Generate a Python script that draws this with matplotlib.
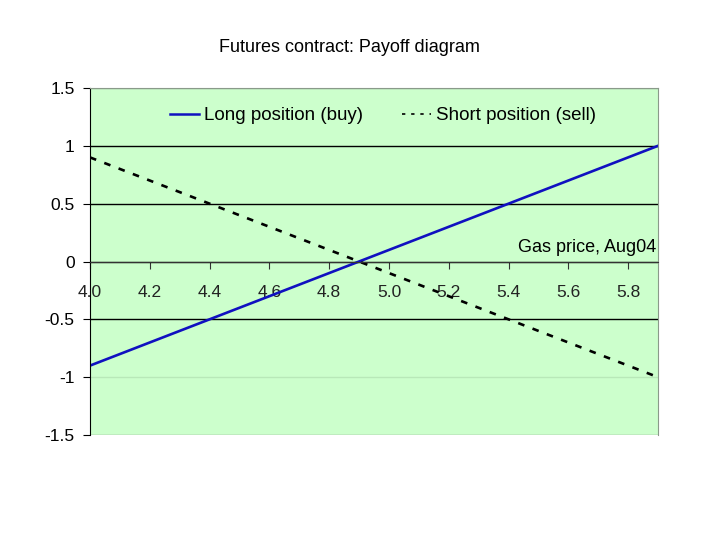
import matplotlib
matplotlib.use("Agg")
import matplotlib.pyplot as plt
from matplotlib.lines import Line2D

# Gas price (Aug04) and payoff of a futures contract bought/sold at 4.9
prices = [4.0, 4.1, 4.2, 4.3, 4.4, 4.5, 4.6, 4.7, 4.8, 4.9,
          5.0, 5.1, 5.2, 5.3, 5.4, 5.5, 5.6, 5.7, 5.8, 5.9]
long_payoff = [-0.9, -0.8, -0.7, -0.6, -0.5, -0.4, -0.3, -0.2, -0.1, 0.0,
               0.1, 0.2, 0.3, 0.4, 0.5, 0.6, 0.7, 0.8, 0.9, 1.0]
short_payoff = [0.9, 0.8, 0.7, 0.6, 0.5, 0.4, 0.3, 0.2, 0.1, 0.0,
                -0.1, -0.2, -0.3, -0.4, -0.5, -0.6, -0.7, -0.8, -0.9, -1.0]
x_ticks = [4.0, 4.2, 4.4, 4.6, 4.8, 5.0, 5.2, 5.4, 5.6, 5.8]
x_labels = ["4.0", "4.2", "4.4", "4.6", "4.8", "5.0", "5.2", "5.4", "5.6", "5.8"]
y_ticks = [-1.5, -1, -0.5, 0, 0.5, 1, 1.5]
y_labels = ["-1.5", "-1", "-0.5", "0", "0.5", "1", "1.5"]

plt.rcParams['font.family'] = ['Liberation Sans', 'DejaVu Sans']

fig = plt.figure(figsize=(7.2, 5.4), dpi=100)
ax = fig.add_axes([90 / 720, 1 - 435 / 540, 568 / 720, 347 / 540])
ax.set_facecolor('#ccffcc')

ax.plot(prices, long_payoff, color='#1010c0', lw=1.9, label='Long position (buy)')
ax.plot(prices, short_payoff, color='black', lw=1.9, linestyle=(0, (2.5, 3.3)),
        label='Short position (sell)')

ax.set_xlim(4.0, 5.9)
ax.set_ylim(-1.5, 1.5)
ax.set_yticks(y_ticks)
ax.set_yticklabels(y_labels)
ax.set_xticks(x_ticks)
ax.set_xticklabels(x_labels)

# horizontal gridlines
ax.grid(axis='y', color='black', lw=1)
ax.grid(axis='x', visible=False)
grid = ax.yaxis.get_gridlines()
grid[0].set_color('#8a9a8a')
grid[1].set_color('#b8e8b8')
grid[-1].set_color('#8a9a8a')
ax.set_axisbelow(True)

ax.spines['left'].set_color('black')
ax.spines['bottom'].set_position(('data', 0))
ax.spines['bottom'].set_color('#333333')
for s in ['top', 'right']:
    ax.spines[s].set_color('#8a9a8a')
ax.tick_params(axis='y', direction='out', length=5, pad=6, labelsize=12.5)
ax.tick_params(axis='x', direction='out', length=5, pad=12, color='#333333',
               labelsize=12.5, labelcolor='#222222')

ax.text(0.997, 0.54, 'Gas price, Aug04', transform=ax.transAxes,
        ha='right', va='center', fontsize=13)

handles = [Line2D([], [], color='#1010c0', lw=1.8),
           Line2D([], [], color='black', lw=1.2, linestyle=(0, (2, 3.5)))]
ax.legend(handles, ['Long position (buy)', 'Short position (sell)'],
          loc='upper center', bbox_to_anchor=(0.516, 0.993), ncol=2, frameon=False,
          fontsize=13.5, handlelength=1.55, handletextpad=0.25, columnspacing=2.1)

fig.text(0.486, 0.912, 'Futures contract: Payoff diagram', ha='center', va='center',
         fontsize=13)

fig.savefig('out.png', dpi=100)
